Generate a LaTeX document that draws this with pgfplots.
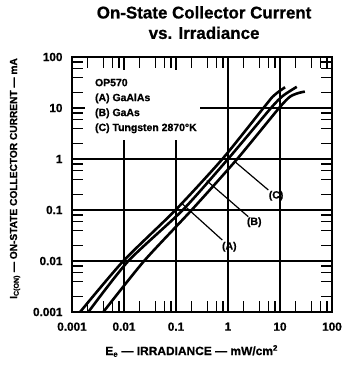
\documentclass[border=0pt]{standalone}
\usepackage{fontspec}
\setmainfont{Liberation Sans}[BoldFeatures={FakeBold=0.8}]
\usepackage{pgfplots}
\pgfplotsset{compat=1.18}
\begin{document}
\begin{tikzpicture}
\begin{axis}[
  scale only axis, width=260bp, height=255bp,
  xmode=log, ymode=log,
  xmin=0.001, xmax=100, ymin=0.001, ymax=100,
  xtick={0.001,0.01,0.1,1,10,100}, xticklabels={0.001,0.01,0.1,1,10,100},
  ytick={0.001,0.01,0.1,1,10,100}, yticklabels={0.001,0.01,0.1,1,10,100},
  minor xtick={0.002,0.004,0.006,0.008,0.02,0.04,0.06,0.08,0.2,0.4,0.6,0.8,2,4,6,8,20,40,60,80},
  minor ytick={0.002,0.004,0.006,0.008,0.02,0.04,0.06,0.08,0.2,0.4,0.6,0.8,2,4,6,8,20,40,60,80},
  tick align=inside, major tick length=13bp, minor tick length=11bp,
  every tick/.style={black, line width=1.2bp},
  axis line style={line width=1.9bp},
  /pgf/number format/assume math mode=true,
  ticklabel style={font=\bfseries\fontsize{11.8}{13}\selectfont},
  xticklabel shift=7bp, yticklabel shift=6bp,
  clip mode=individual,
]
% grid (partly hidden behind legend text)
\begin{scope}[line width=1.2bp]
\draw (axis cs:0.001,0.01) -- (axis cs:100,0.01);
\draw (axis cs:0.001,0.1) -- (axis cs:100,0.1);
\draw (axis cs:0.001,1) -- (axis cs:100,1);
\draw (axis cs:0.29,10) -- (axis cs:100,10);
\draw (axis cs:0.01,0.001) -- (axis cs:0.01,2.36);
\draw (axis cs:0.1,0.001) -- (axis cs:0.1,2.36);
\draw (axis cs:1,0.001) -- (axis cs:1,100);
\draw (axis cs:10,0.001) -- (axis cs:10,100);
\end{scope}
% curves
\addplot[black, line width=2.6bp, smooth, tension=0.4] coordinates {
 (0.00143,0.001) (0.0097,0.01) (0.098,0.1) (0.78,1) (4.8,10) (7.2,16.6) (9.5,21) (12.5,25.5)};
\addplot[black, line width=2.6bp, smooth, tension=0.4] coordinates {
 (0.00206,0.001) (0.0121,0.01) (0.135,0.1) (1.0,1) (6.7,10) (10.8,16.6) (15,21) (21,26)};
\addplot[black, line width=2.6bp, smooth, tension=0.4] coordinates {
 (0.004,0.001) (0.0243,0.01) (0.2,0.1) (1.5,1) (9.6,10) (15.5,16.6) (22,19.5) (30,21)};
% leaders and labels
\begin{scope}[line width=1.2bp]
\draw (axis cs:1.36,0.885) -- (axis cs:5.96,0.247);
\draw (axis cs:0.39,0.376) -- (axis cs:2.45,0.074);
\draw (axis cs:0.129,0.135) -- (axis cs:0.776,0.0258);
\end{scope}
\begin{scope}[font=\bfseries\fontsize{10.5}{12}\selectfont]
\node at (axis cs:8.4,0.19) {(C)};
\node at (axis cs:3.2,0.0575) {(B)};
\node at (axis cs:1.06,0.019) {(A)};
\node[anchor=north west, align=left, inner sep=0pt, font=\bfseries\fontsize{10.5}{15}\selectfont]
  at (rel axis cs:0.088,0.915) {OP570\\(A) GaAlAs\\(B) GaAs\\(C) Tungsten 2870°K};
\end{scope}
% title and axis labels
\node[anchor=north, align=center, inner sep=0pt, font=\bfseries\fontsize{17}{20.5}\selectfont]
  at (rel axis cs:0.508,1.2) {On-State Collector Current\\vs. Irradiance};
\node[font=\bfseries\fontsize{12}{14}\selectfont] at (rel axis cs:0.46,-0.153)
  {E\textsubscript{e} --- IRRADIANCE --- mW/cm\textsuperscript{2}};
\node[rotate=90, font=\bfseries\fontsize{10.2}{13}\selectfont] at (rel axis cs:-0.219,0.5235)
  {I\textsubscript{C(ON)} --- ON-STATE COLLECTOR CURRENT --- mA};
% fix the picture's extent
\path (rel axis cs:-0.2769,-0.2078) rectangle (rel axis cs:1.0731,1.2235);
\end{axis}
\end{tikzpicture}
\end{document}
